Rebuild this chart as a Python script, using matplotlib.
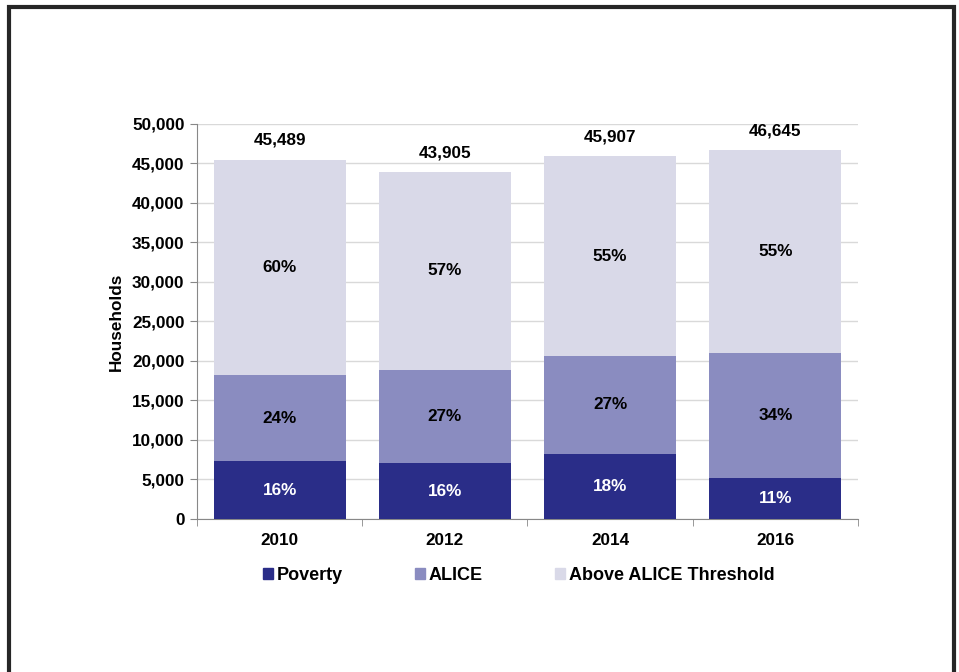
import matplotlib.pyplot as plt
from matplotlib.patches import Rectangle, Patch

years = ['2010', '2012', '2014', '2016']
poverty = [7278, 7025, 8263, 5131]
alice = [10917, 11854, 12395, 15859]
above = [27294, 25026, 25249, 25655]
totals = [45489, 43905, 45907, 46645]
pov_pct = ['16%', '16%', '18%', '11%']
alice_pct = ['24%', '27%', '27%', '34%']
above_pct = ['60%', '57%', '55%', '55%']

c_pov = '#2a2d88'
c_alice = '#8a8cc0'
c_above = '#d9d9e8'

plt.rcParams['font.family'] = ['Liberation Sans', 'DejaVu Sans']
plt.rcParams['font.weight'] = 'bold'
plt.rcParams['axes.labelweight'] = 'bold'
plt.rcParams['font.size'] = 12.3

fig = plt.figure(figsize=(9.59, 6.72), dpi=100)
ax = fig.add_axes([0.2054, 0.2277, 0.6893, 0.5878])

x = range(len(years))
bottom2 = [p + a for p, a in zip(poverty, alice)]
ax.bar(x, poverty, width=0.8, color=c_pov, label='Poverty', zorder=3)
ax.bar(x, alice, width=0.8, bottom=poverty, color=c_alice, label='ALICE', zorder=3)
ax.bar(x, above, width=0.8, bottom=bottom2, color=c_above, label='Above ALICE Threshold', zorder=3)

for i in x:
    ax.text(i, poverty[i] / 2, pov_pct[i], ha='center', va='center', color='white', zorder=4)
    ax.text(i, poverty[i] + alice[i] / 2, alice_pct[i], ha='center', va='center', color='black', zorder=4)
    ax.text(i, bottom2[i] + above[i] / 2, above_pct[i], ha='center', va='center', color='black', zorder=4)
    ax.annotate(f'{totals[i]:,}', (i, totals[i]), xytext=(0, 14), textcoords='offset points',
                ha='center', va='center', color='black')

ax.set_xlim(-0.5, 3.5)
ax.set_ylim(0, 50000)
ax.set_yticks(range(0, 50001, 5000))
ax.set_yticklabels([f'{v:,}' for v in range(0, 50001, 5000)])
ax.set_xticks(list(x))
ax.set_xticklabels(years)
ax.set_xticks([-0.5, 0.5, 1.5, 2.5, 3.5], minor=True)
ax.tick_params(axis='x', which='major', length=0, pad=10)
ax.tick_params(axis='x', which='minor', length=5, color='#888888')
ax.tick_params(axis='y', length=5, color='#888888', pad=4)
ax.grid(axis='y', color='#d9d9d9', linewidth=1, zorder=0)
ax.set_ylabel('Households', labelpad=6)
for s in ['top', 'right']:
    ax.spines[s].set_visible(False)
for s in ['left', 'bottom']:
    ax.spines[s].set_color('#888888')

handles = [Patch(color=c_pov), Patch(color=c_alice), Patch(color=c_above)]
fig.legend(handles, ['Poverty', 'ALICE', 'Above ALICE Threshold'], loc='center',
           bbox_to_anchor=(0.541, 0.144), ncol=3, frameon=False, handlelength=0.55,
           handleheight=0.6, handletextpad=0.2, columnspacing=4.0, fontsize=13)

fig.patches.append(Rectangle((8.5 / 959, -0.1), 945 / 959, 1.1 - 6.5 / 672, transform=fig.transFigure,
                             fill=False, edgecolor='#262626', linewidth=3))

plt.savefig('out.png', dpi=100)
